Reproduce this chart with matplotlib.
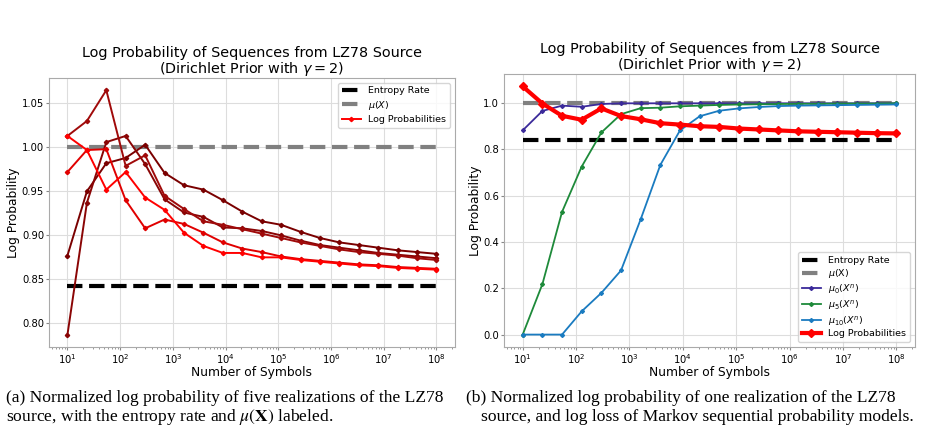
import matplotlib
matplotlib.use("Agg")
import matplotlib.pyplot as plt

# number of symbols (x positions)
n_symbols = [10, 23.4, 54.6, 127, 298, 695, 1624, 3793, 8859, 20691,
             48329, 112884, 263665, 615848, 1438450, 3359818, 7847600,
             18329807, 42813324, 100000000]

entropy_rate = 0.842
mu_x = 1.0

# (a) five realizations, dark -> bright
real_1 = [0.877, 0.950, 0.982, 0.988, 1.003, 0.971, 0.957, 0.952, 0.940, 0.927,
          0.916, 0.912, 0.904, 0.897, 0.892, 0.889, 0.886, 0.883, 0.881, 0.879]
real_2 = [0.787, 0.937, 1.006, 1.013, 0.981, 0.941, 0.926, 0.921, 0.909, 0.908,
          0.905, 0.900, 0.894, 0.889, 0.886, 0.883, 0.880, 0.878, 0.876, 0.874]
real_3 = [1.013, 1.030, 1.065, 0.979, 0.991, 0.945, 0.930, 0.916, 0.912, 0.907,
          0.902, 0.897, 0.892, 0.888, 0.884, 0.881, 0.879, 0.877, 0.874, 0.872]
real_4 = [0.972, 0.997, 0.998, 0.940, 0.908, 0.918, 0.913, 0.903, 0.892, 0.885,
          0.881, 0.876, 0.873, 0.871, 0.869, 0.867, 0.866, 0.864, 0.863, 0.862]
real_5 = [1.013, 0.997, 0.952, 0.972, 0.943, 0.929, 0.903, 0.888, 0.880, 0.880,
          0.875, 0.875, 0.872, 0.870, 0.868, 0.866, 0.865, 0.863, 0.862, 0.861]
realizations = [real_1, real_2, real_3, real_4, real_5]
real_colors = ['#7a0000', '#8a0505', '#a00a0a', '#e00000', '#ff0000']

# (b) one realization + Markov models
log_prob = [1.072, 0.998, 0.945, 0.928, 0.977, 0.944, 0.930, 0.913, 0.907, 0.900,
            0.897, 0.890, 0.886, 0.882, 0.878, 0.876, 0.874, 0.872, 0.870, 0.869]
mu0 = [0.882, 0.966, 0.989, 0.984, 0.996, 0.999, 0.999, 0.999, 0.999, 0.999,
       0.999, 0.999, 0.999, 0.999, 0.999, 0.999, 0.999, 0.999, 0.999, 0.999]
mu5 = [0.0, 0.218, 0.530, 0.725, 0.873, 0.952, 0.978, 0.980, 0.986, 0.989,
       0.992, 0.994, 0.995, 0.996, 0.997, 0.997, 0.998, 0.998, 0.998, 0.999]
mu10 = [0.0, 0.0, 0.0, 0.100, 0.180, 0.277, 0.498, 0.733, 0.882, 0.943,
        0.967, 0.977, 0.983, 0.987, 0.989, 0.990, 0.991, 0.992, 0.993, 0.994]

title = 'Log Probability of Sequences from LZ78 Source\n(Dirichlet Prior with $\\gamma=2$)'

fig = plt.figure(figsize=(9.26, 4.34), dpi=100)
ax1 = fig.add_axes([0.0529, 0.2005, 0.4384, 0.6198])
ax2 = fig.add_axes([0.5443, 0.2005, 0.4438, 0.629])


def style(ax):
    ax.set_xscale('log')
    ax.grid(True, color='#dddddd', linewidth=0.8)
    ax.set_axisbelow(True)
    for s in ax.spines.values():
        s.set_color('#aaaaaa')
    ax.tick_params(labelsize=7.2, length=2, pad=1.5, color='#888888')
    ax.tick_params(which='minor', length=1.5, color='#888888')
    ax.set_xlabel('Number of Symbols', fontsize=8.8, labelpad=0)
    ax.set_ylabel('Log Probability', fontsize=8.8, labelpad=1)
    ax.set_title(title, fontsize=10.4, pad=3, linespacing=1.0)


# ---- (a)
ax1.plot(n_symbols, [entropy_rate] * len(n_symbols), '--', color='black', lw=3, label='Entropy Rate')
ax1.plot(n_symbols, [mu_x] * len(n_symbols), '--', color='gray', lw=3, label='$\\mu(X)$')
for i, (vals, c) in enumerate(zip(realizations, real_colors)):
    ax1.plot(n_symbols, vals, '-D', color=c, lw=1.4, ms=2.2,
             label='Log Probabilities' if i == 4 else None)
style(ax1)
ax1.set_yticks([0.80, 0.85, 0.90, 0.95, 1.00, 1.05])
ax1.legend(loc='upper right', fontsize=6.8, labelspacing=0.35)

# ---- (b)
ax2.plot(n_symbols, [entropy_rate] * len(n_symbols), '--', color='black', lw=3, label='Entropy Rate')
ax2.plot(n_symbols, [mu_x] * len(n_symbols), '--', color='gray', lw=3, label='$\\mu$(X)')
ax2.plot(n_symbols, mu0, '-D', color='#3b2a9a', lw=1.3, ms=2, label='$\\mu_0(X^n)$')
ax2.plot(n_symbols, mu5, '-D', color='#1e8a3a', lw=1.3, ms=2, label='$\\mu_5(X^n)$')
ax2.plot(n_symbols, mu10, '-D', color='#1a7bc0', lw=1.3, ms=2, label='$\\mu_{10}(X^n)$')
ax2.plot(n_symbols, log_prob, '-D', color='#ff0000', lw=3, ms=4.5, label='Log Probabilities')
style(ax2)
ax2.legend(loc='lower right', fontsize=6.8, labelspacing=0.2)

# captions
cap_kw = dict(family='Liberation Serif', fontsize=12.6, va='center', math_fontfamily='stix')
fig.text(6 / 926, 1 - 398 / 434, '(a) Normalized log probability of five realizations of the LZ78', **cap_kw)
fig.text(6 / 926, 1 - 417 / 434, 'source, with the entropy rate and $\\mu(\\mathbf{X})$ labeled.', **cap_kw)
fig.text(466 / 926, 1 - 398 / 434, '(b) Normalized log probability of one realization of the LZ78', **cap_kw)
fig.text(481 / 926, 1 - 417 / 434, 'source, and log loss of Markov sequential probability models.', **cap_kw)

fig.savefig('out.png', dpi=100)
